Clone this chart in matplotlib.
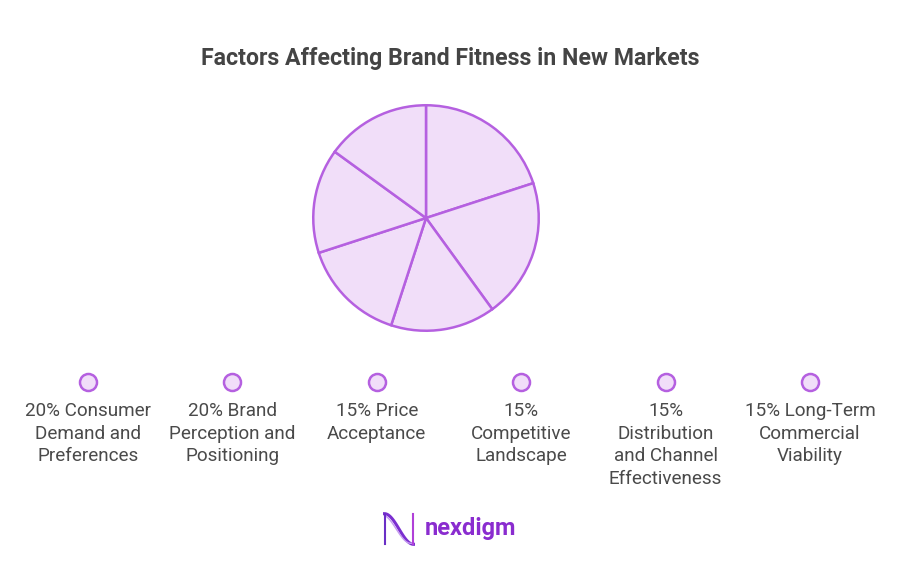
import numpy as np
import matplotlib.pyplot as plt

plt.rcParams['font.family'] = ['Roboto', 'DejaVu Sans']

title = 'Factors Affecting Brand Fitness in New Markets'
shares = [20, 20, 15, 15, 15, 15]
labels = ['20% Consumer\nDemand and\nPreferences',
          '20% Brand\nPerception and\nPositioning',
          '15% Price\nAcceptance',
          '15%\nCompetitive\nLandscape',
          '15%\nDistribution\nand Channel\nEffectiveness',
          '15% Long-Term\nCommercial\nViability']

fill = '#f1def9'
edge = '#b560e0'
text_col = '#4a4a4a'

W, H = 901, 579
fig = plt.figure(figsize=(W / 100, H / 100), dpi=100)
fig.patch.set_facecolor('white')

# title
fig.text(0.5, 1 - 59 / H, title, ha='center', va='center',
         fontsize=16.7, fontweight='bold', color='#444444')

# pie
r = 113
cx, cy = 426, 218
ax = fig.add_axes([(cx - r - 2) / W, 1 - (cy + r + 2) / H, (2 * r + 4) / W, (2 * r + 4) / H])
ax.pie(shares, startangle=90, counterclock=False, radius=1,
       colors=[fill] * len(shares),
       wedgeprops=dict(edgecolor=edge, linewidth=1.8))
ax.set_xlim(-1.02, 1.02)
ax.set_ylim(-1.02, 1.02)
ax.set_aspect('equal')
ax.axis('off')

# legend row
lx0, dx = 88, 144.4
xs = [lx0 + i * dx for i in range(len(labels))]
mk = fig.add_axes([0, 0, 1, 1], facecolor='none')
mk.set_xlim(0, W)
mk.set_ylim(H, 0)
mk.axis('off')
mk.scatter(xs, [382] * len(labels), s=150, facecolor=fill,
           edgecolor=edge, linewidth=1.8, zorder=3)
for x, lab in zip(xs, labels):
    mk.text(x, 402.5, lab, ha='center', va='top', fontsize=13.6,
            color=text_col, linespacing=1.31)

# logo
t = np.linspace(0, 1, 100)
lg = fig.add_axes([383 / W, 1 - 546 / H, 32 / W, 34 / H])
lg.plot(t, 0.5 + 0.45 * np.cos(np.pi * t), color='#7b2fd0', lw=2.2)
lg.plot(t, 0.5 + 0.42 * np.cos(np.pi * t + 0.3), color='#c59af0', lw=1)
lg.plot([0.02, 0.02], [0.05, 0.95], color='#6a2fc6', lw=1.5)
lg.plot([0.98, 0.98], [0.05, 0.95], color='#b040d8', lw=1.5)
lg.set_xlim(-0.05, 1.05)
lg.set_ylim(0, 1)
lg.axis('off')
fig.text(425 / W, 1 - 529 / H, 'nexdigm', ha='left', va='center',
         fontsize=17, fontweight='bold', color='#8a2ccf')

fig.savefig('out.png', dpi=100, facecolor='white')
